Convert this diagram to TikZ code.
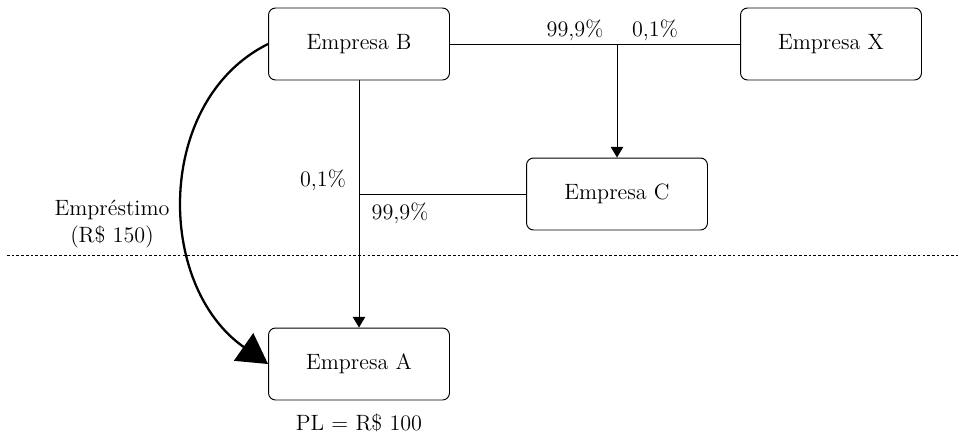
\documentclass[tikz,border=0pt]{standalone}
\usetikzlibrary{arrows.meta}
\begin{document}
\begin{tikzpicture}[x=0.02cm, y=-0.02cm, font=\fontsize{12.6}{15}\selectfont,
        empresa/.style={draw, rounded corners=4pt, line width=0.55pt, minimum width=3.62cm, minimum height=1.44cm},
        seta/.style={-{Triangle[length=6pt,width=7pt]}, line width=0.55pt},
        linha/.style={line width=0.55pt}]
            \useasboundingbox (0,0) rectangle (959,434);

            \node (B) at (359,44) [empresa] {Empresa B};
            \node (X) at (831,44) [empresa] {Empresa X};
            \node (C) at (617,194) [empresa] {Empresa C};
            \node (A) at (359,364) [empresa] {Empresa A};
            \node (PL) at (359,423) {PL = R\$ 100};

            \coordinate (J) at (617,44);
            \coordinate (K) at (359,194);

            \draw[linha] (B) -- (X);
            \draw[seta] (J) -- (C);
            \draw[seta] (B) -- (A);
            \draw[linha] (K) -- (C);

            \node (pBC) at (575,30) {99,9\%};
            \node (pXC) at (655,30) {0,1\%};
            \node (pBA) at (323,180) {0,1\%};
            \node (pCA) at (400,213) {99,9\%};

            % emprestimo de B para A
            \draw[line width=1.3pt, -{Triangle[length=17pt,width=19pt]}] (B.west) .. controls (155,100) and (155,285) .. (A.west);
            \node (E) at (112,224) [align=center] {Empréstimo\\(R\$ 150)};

            \coordinate (D1) at (7,255);
            \coordinate (D2) at (959,255);
            \draw[line width=0.55pt, dash pattern=on 1.5pt off 1.2pt] (D1) -- (D2);
        \end{tikzpicture}
\end{document}
